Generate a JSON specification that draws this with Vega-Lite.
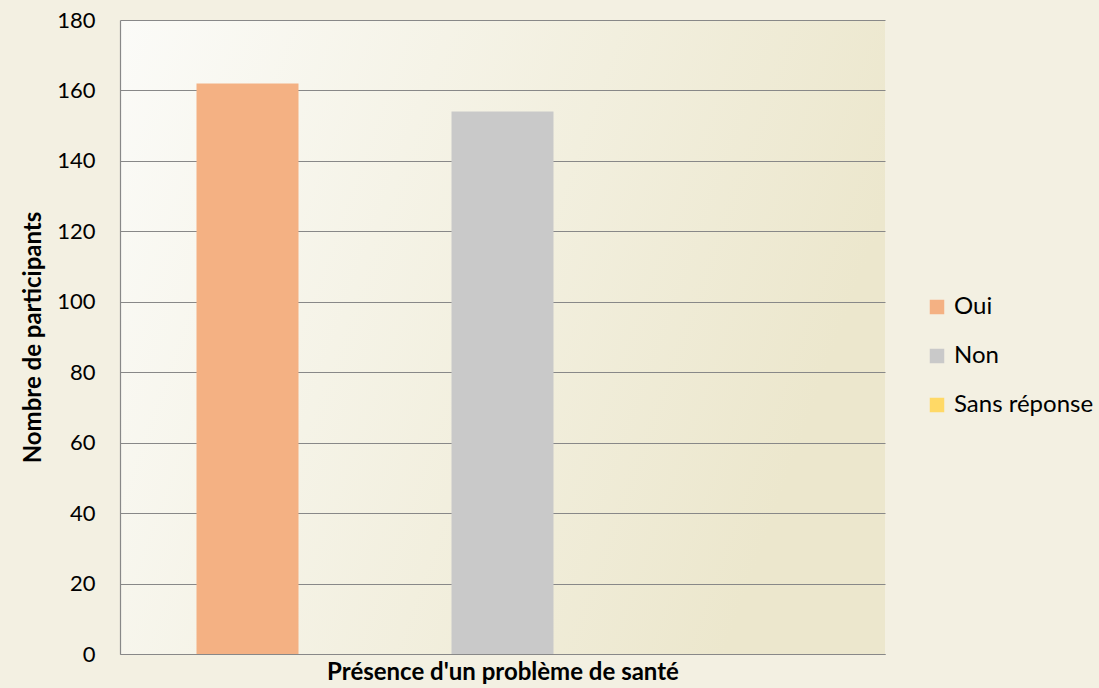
{
  "$schema": "https://vega.github.io/schema/vega-lite/v6.json",
  "width": 765,
  "height": 634,
  "autosize": {"type": "none"},
  "padding": {"left": 120, "top": 20, "right": 214, "bottom": 34},
  "background": "#f3f0e2",
  "config": {
    "font": "Lato",
    "view": {
      "stroke": null,
      "fill": {"gradient": "linear", "x1": 0, "y1": 0, "x2": 1, "y2": 0.3, "stops": [{"offset": 0, "color": "#fbfbf8"}, {"offset": 1, "color": "#ece7cd"}]}
    }
  },
  "data": {
    "values": [
      {"Réponse": "Oui", "Participants": 162},
      {"Réponse": "Non", "Participants": 154},
      {"Réponse": "Sans réponse", "Participants": 0}
    ]
  },
  "mark": {"type": "bar"},
  "encoding": {
    "x": {
      "field": "Réponse",
      "type": "nominal",
      "sort": ["Oui", "Non", "Sans réponse"],
      "scale": {"paddingInner": 0.6, "paddingOuter": 0.3},
      "axis": {
        "title": "Présence d'un problème de santé",
        "titleFont": "Lato",
        "titleFontSize": 24,
        "titleFontWeight": "bold",
        "titleColor": "#000000",
        "titlePadding": 6,
        "labels": false,
        "ticks": false,
        "domainColor": "#888888",
        "domainWidth": 1.2
      }
    },
    "y": {
      "field": "Participants",
      "type": "quantitative",
      "scale": {"domain": [0, 180], "nice": false},
      "axis": {
        "title": "Nombre de participants",
        "titleFont": "Lato",
        "titleFontSize": 24,
        "titleFontWeight": "bold",
        "titleColor": "#000000",
        "titlePadding": 11,
        "values": [0, 20, 40, 60, 80, 100, 120, 140, 160, 180],
        "labelFontSize": 22,
        "labelColor": "#000000",
        "labelPadding": 25,
        "ticks": false,
        "grid": true,
        "gridColor": "#888888",
        "gridWidth": 1.2,
        "domainColor": "#888888",
        "domainWidth": 1.2
      }
    },
    "color": {
      "field": "Réponse",
      "type": "nominal",
      "sort": ["Oui", "Non", "Sans réponse"],
      "scale": {"domain": ["Oui", "Non", "Sans réponse"], "range": ["#f4b183", "#c9c9c9", "#ffd966"]},
      "legend": {
        "title": null,
        "orient": "none",
        "legendX": 805,
        "legendY": 275,
        "symbolType": "square",
        "symbolSize": 210,
        "symbolStrokeWidth": 0,
        "labelFontSize": 24,
        "labelColor": "#000000",
        "labelOffset": 5,
        "rowPadding": 25
      }
    }
  }
}
